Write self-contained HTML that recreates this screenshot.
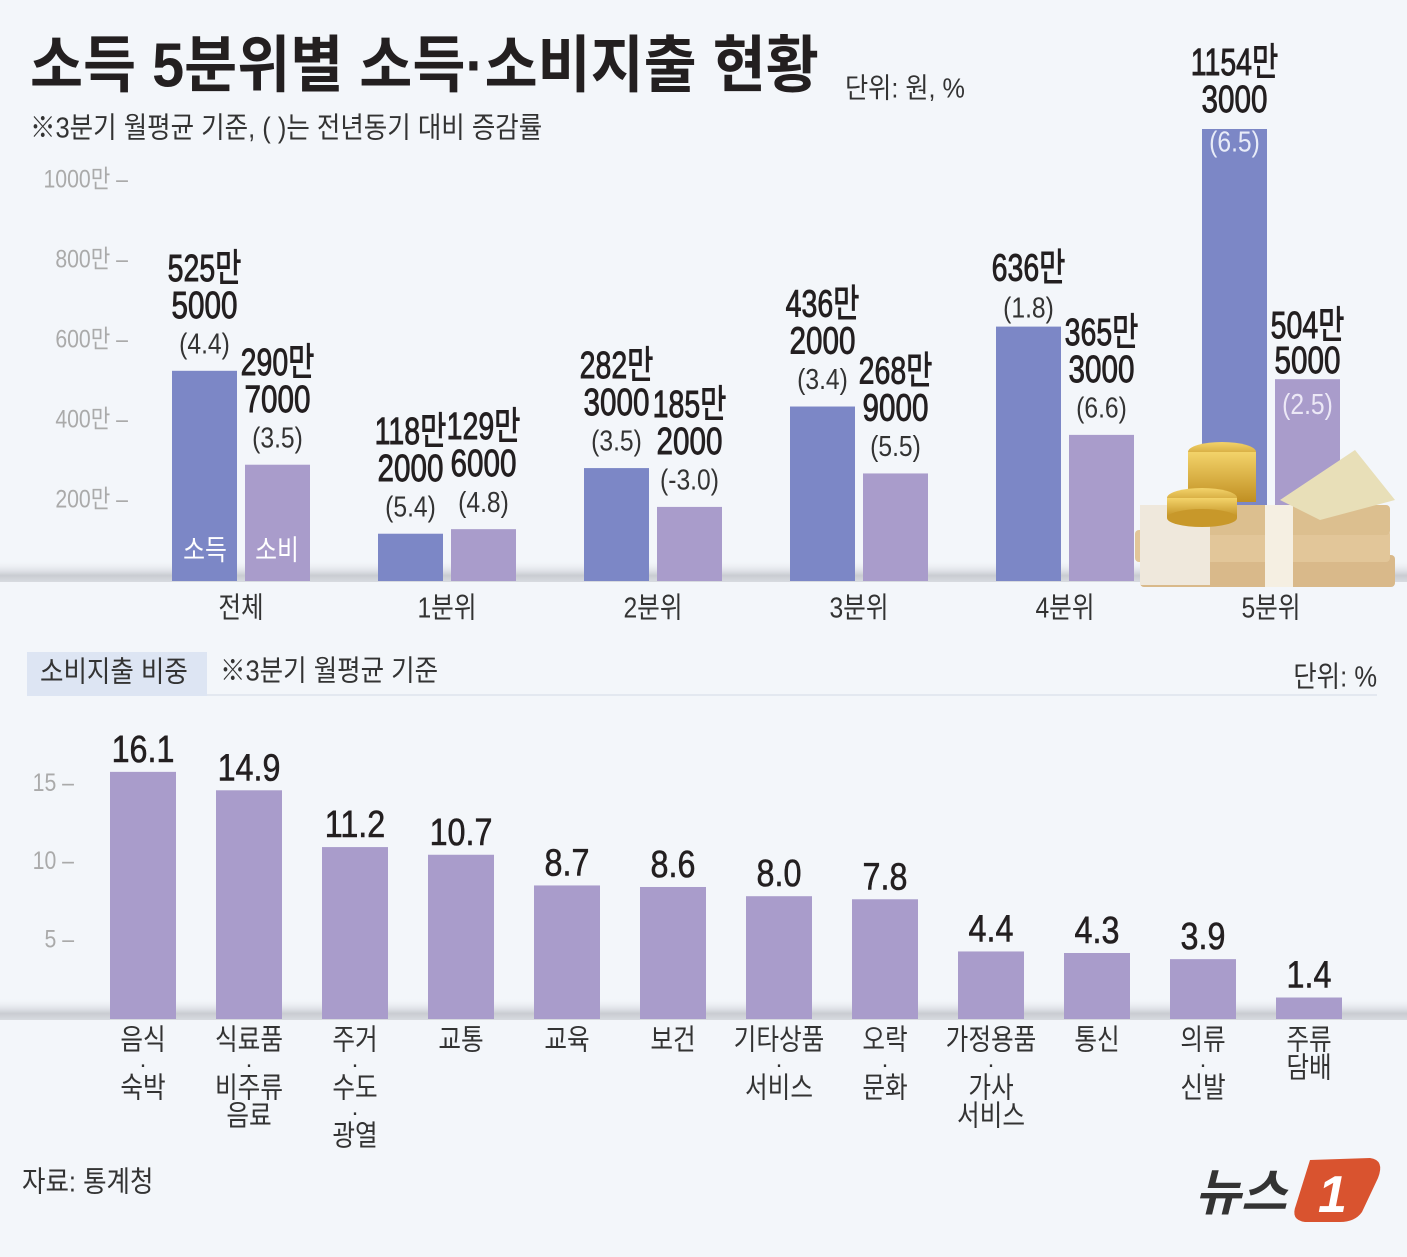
<!DOCTYPE html>
<html><head><meta charset="utf-8">
<style>
html,body{margin:0;padding:0;background:#f3f6fa;}
svg{display:block;font-family:"Liberation Sans","Noto Sans CJK KR",sans-serif;}
</style></head>
<body>
<svg id="chart" width="1407" height="1257" viewBox="0 0 1407 1257" xmlns="http://www.w3.org/2000/svg">
<defs>
<linearGradient id="band" x1="0" y1="0" x2="0" y2="1">
<stop offset="0" stop-color="#f3f6fa" stop-opacity="0"/>
<stop offset="0.7" stop-color="#c9ccd2"/>
<stop offset="1" stop-color="#d8dbe0"/>
</linearGradient>
<linearGradient id="gold" x1="0" y1="0" x2="0" y2="1">
<stop offset="0" stop-color="#f3d36a"/><stop offset="1" stop-color="#c08f22"/>
</linearGradient>
</defs>
<rect width="1407" height="1257" fill="#f3f6fa"/>
<g id="hdr"></g>
<rect x="0" y="560" width="1407" height="22" fill="url(#band)"/>
<rect x="0" y="998" width="1407" height="22" fill="url(#band)"/>
<g id="topchart"></g>
<g id="money">
<rect x="1140" y="555" width="255" height="32" rx="4" fill="#d9b98a"/>
<rect x="1135" y="530" width="255" height="32" rx="4" fill="#e2c699"/>
<rect x="1145" y="505" width="245" height="30" rx="4" fill="#dcbf8f"/>
<rect x="1140" y="505" width="70" height="80" fill="#efe8dc"/>
<rect x="1265" y="505" width="28" height="82" fill="#f5efe2"/>
<polygon points="1280,500 1355,450 1395,500 1320,520" fill="#e8dfb8"/>
<ellipse cx="1222" cy="452" rx="34" ry="10" fill="url(#gold)"/>
<rect x="1188" y="452" width="68" height="50" fill="url(#gold)"/>
<ellipse cx="1202" cy="498" rx="35" ry="10" fill="url(#gold)"/>
<rect x="1167" y="498" width="70" height="20" fill="url(#gold)"/>
<ellipse cx="1202" cy="518" rx="35" ry="9" fill="#c8982a"/>
</g>
<g id="bottomchart"></g>
<g id="logo">
<text x="1195" y="1210" font-size="50" font-weight="bold" fill="#333" font-style="italic">뉴스</text>
<path d="M1310 1160 L1370 1158 Q1385 1160 1378 1178 L1362 1212 Q1355 1222 1340 1222 L1305 1222 Q1290 1220 1296 1205 Z" fill="#d9532f"/>
<text x="1318" y="1212" font-size="52" font-weight="bold" fill="#fff" font-style="italic">1</text>
</g>
</svg>
<script>
// ---- top chart data ----
const groups = ["전체","1분위","2분위","3분위","4분위","5분위"];
const incomeVals = [525.5,118.2,282.3,436.2,636.0,1154.3];
const spendVals = [290.7,129.6,185.2,268.9,365.3,504.5];
const incomeRates = ["(4.4)","(5.4)","(3.5)","(3.4)","(1.8)","(6.5)"];
const spendRates = ["(3.5)","(4.8)","(-3.0)","(5.5)","(6.6)","(2.5)"];
const topTicks = [200,400,600,800,1000];
// ---- bottom chart data ----
const catLabels = [["음식","·","숙박"],["식료품","·","비주류","음료"],["주거","·","수도","·","광열"],["교통"],["교육"],["보건"],["기타상품","·","서비스"],["오락","·","문화"],["가정용품","·","가사","서비스"],["통신"],["의류","·","신발"],["주류","담배"]];
const shareVals = [16.1,14.9,11.2,10.7,8.7,8.6,8.0,7.8,4.4,4.3,3.9,1.4];
const shareTicks = [5,10,15];

const NS="http://www.w3.org/2000/svg";
function mk(parent,tag,attrs){const e=document.createElementNS(NS,tag);for(const k in attrs)e.setAttribute(k,attrs[k]);parent.appendChild(e);return e;}
function txt(parent,x,y,s,size,fill,anchor,weight,sx,stroke){
  const g=mk(parent,"g",{transform:`translate(${x},${y}) scale(${sx||0.85},1)`});
  const t=mk(g,"text",{x:0,y:0,"font-size":size,fill:fill,"text-anchor":anchor||"middle","dominant-baseline":"middle","font-weight":weight||"normal"});
  if(stroke){t.setAttribute("stroke",fill);t.setAttribute("stroke-width",stroke);}
  t.textContent=s;return t;
}
// header
const hdr=document.getElementById("hdr");
let tx=txt(hdr,30,70,"소득 5분위별 소득·소비지출 현황",62,"#231f20","start","bold",0.93);


tx=txt(hdr,845,90,"단위: 원, %",28,"#333","start","normal",0.9);


tx=txt(hdr,30,130,"※3분기 월평균 기준, ( )는 전년동기 대비 증감률",29,"#333","start","normal",0.88);



// top chart
const topG=document.getElementById("topchart");
const base1=581, k1=0.4, cap=1130;
const y1=v=>base1-Math.min(v,cap)*k1;
const gx=i=>241+206*i;
topTicks.forEach(v=>{
  const tt=txt(topG,128,y1(v),v+"만  –",25,"#aaa","end","normal",0.85);
  
  
});
function fmt(v){const a=Math.floor(v);const b=Math.round((v-a)*10000);return [a+"만",b?String(b).padStart(4,"0"):""];}
function bar(i,v,rate,isInc){
  const x=isInc?gx(i)-69:gx(i)+4;
  const T=y1(v);
  const r=mk(topG,"rect",{x:x,y:T,width:65,height:base1-T,fill:isInc?"#7c87c6":"#a99ccb"});
  
  
  const cx=x+32.5;
  const f=fmt(v);
  let off=f[1]?[-100,-63,-25]:[-56,0,-17], pc="#333";
  if(i===5){ if(isInc){off=[-64,-27,15];pc="#e8ecf8";} else {off=[-51,-16,27];pc="#ece8f6";} }
  let a=txt(topG,cx,T+off[0],f[0],38,"#231f20","middle","normal",0.75,0.9);
  
  
  if(f[1]){
    a=txt(topG,cx,T+off[1],f[1],38,"#231f20","middle","normal",0.78,0.9);
    
    
  }
  a=txt(topG,cx,T+off[2],rate,29,pc,"middle","normal",0.85);
  
  
}
groups.forEach((g,i)=>{
  bar(i,incomeVals[i],incomeRates[i],true);
  bar(i,spendVals[i],spendRates[i],false);
  const l=txt(topG,gx(i),610,g,29,"#333","middle","normal",0.85);
  
  
});
let lg=txt(topG,gx(0)-36,552,"소득",28,"#fff","middle","normal",0.85);


lg=txt(topG,gx(0)+36,552,"소비",28,"#fff","middle","normal",0.85);



// bottom section header
const bot=document.getElementById("bottomchart");
let hb=mk(bot,"rect",{x:27,y:652,width:180,height:44,fill:"#dde5f3"});


mk(bot,"rect",{x:207,y:694,width:1170,height:2,fill:"#e3e8f0"});
tx=txt(bot,40,674,"소비지출 비중",29,"#333","start","normal",0.88);


tx=txt(bot,220,673,"※3분기 월평균 기준",29,"#333","start","normal",0.88);


tx=txt(bot,1377,679,"단위: %",29,"#333","end","normal",0.88);



const base2=1019, k2=15.35;
const y2=v=>base2-v*k2;
const bx=i=>110+106*i;
shareTicks.forEach(v=>{
  const tt=txt(bot,74,base2-v*15.65,v+" –",25,"#aaa","end","normal",0.85);
  
  
});
shareVals.forEach((v,i)=>{
  const T=y2(v);
  const r=mk(bot,"rect",{x:bx(i),y:T,width:66,height:base2-T,fill:"#a99ccb"});
  
  
  const l=txt(bot,bx(i)+33,T-20,v.toFixed(1),38,"#231f20","middle","normal",0.85,0.6);
  
  
  let y=1042;
  catLabels[i].forEach(s=>{
    if(s==="·"){ const d=txt(bot,bx(i)+33,y-4,"·",24,"#333","middle","normal",1);   y+=20; }
    else { const c=txt(bot,bx(i)+33,y,s,29,"#333","middle","normal",0.85);   y+=28; }
  });
});
tx=txt(bot,22,1184,"자료: 통계청",29,"#333","start","normal",0.88);


</script>
</body></html>
